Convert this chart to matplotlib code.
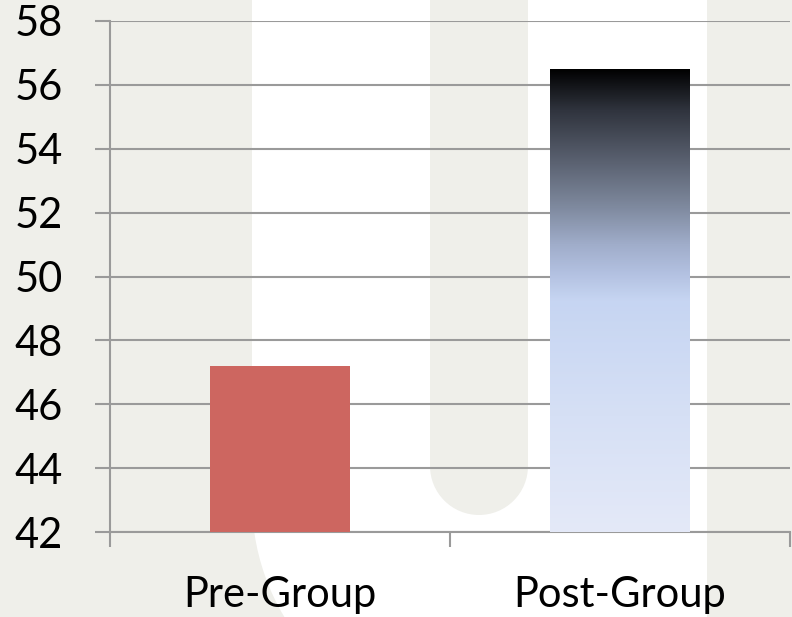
import numpy as np
import matplotlib.pyplot as plt
from matplotlib.colors import LinearSegmentedColormap
from matplotlib.patches import Rectangle, Circle

# chart data
categories = ["Pre-Group", "Post-Group"]
values = [47.2, 56.5]
y_ticks = [42, 44, 46, 48, 50, 52, 54, 56, 58]

plt.rcParams['font.family'] = ['Lato', 'DejaVu Sans']

W, H = 792, 617
fig = plt.figure(figsize=(W / 100, H / 100), dpi=100)
bg_gray = '#EFEFEA'
fig.patch.set_facecolor(bg_gray)

# slide background: white "U" shape on gray
bg = fig.add_axes([0, 0, 1, 1], zorder=0)
bg.set_xlim(0, W)
bg.set_ylim(H, 0)
bg.axis('off')
bg.add_patch(Rectangle((252, -10), 455, 510, color='white', lw=0))
bg.add_patch(Circle((479.5, 500), 227.5, color='white', lw=0))
bg.add_patch(Rectangle((479.5, 490), 227.5, 140, color='white', lw=0))
bg.add_patch(Rectangle((430, -10), 98, 476, color=bg_gray, lw=0))
bg.add_patch(Circle((479, 466), 49, color=bg_gray, lw=0))

# main chart
ax = fig.add_axes([110 / W, (H - 532) / H, 680 / W, 511 / H], zorder=1)
ax.patch.set_alpha(0)

grid_col = '#9A9A9A'
x = np.arange(len(categories))
bars = ax.bar(x, [v - y_ticks[0] for v in values], bottom=y_ticks[0], width=0.41,
              color=['#CD6660', 'none'], zorder=3)

# gradient fill for the post-group bar
grad = LinearSegmentedColormap.from_list('post', [
    (0.00, '#E4E9F8'),
    (0.25, '#D6E0F5'),
    (0.50, '#C6D5F2'),
    (0.56, '#B2C0E0'),
    (0.62, '#A0ADCA'),
    (0.70, '#7F8A9F'),
    (0.80, '#5A6170'),
    (0.91, '#30343E'),
    (1.00, '#000000'),
])
p = bars[1]
img = ax.imshow(np.linspace(0, 1, 256).reshape(-1, 1), cmap=grad, origin='lower',
                aspect='auto', zorder=3,
                extent=[p.get_x(), p.get_x() + p.get_width(),
                        p.get_y(), p.get_y() + p.get_height()])
img.set_clip_path(p)

ax.set_xlim(-0.5, len(categories) - 0.5)
ax.set_ylim(y_ticks[0], y_ticks[-1])
ax.set_yticks(y_ticks)
ax.yaxis.grid(True, color=grid_col, lw=1.5, zorder=1)
ax.set_axisbelow(True)

ax.set_xticks(x)
ax.set_xticklabels(categories, fontsize=30)
ax.set_xticks(np.arange(-0.5, len(categories)), minor=True)
ax.tick_params(axis='x', which='major', length=0, pad=32)
ax.tick_params(axis='x', which='minor', length=11, width=1.5, color=grid_col)
ax.tick_params(axis='y', length=11, width=1.5, color=grid_col, pad=23, labelsize=30)

for s in ['top', 'right']:
    ax.spines[s].set_visible(False)
for s in ['left', 'bottom']:
    ax.spines[s].set_color(grid_col)
    ax.spines[s].set_linewidth(1.5)

fig.savefig('out.png', dpi=100, facecolor=fig.get_facecolor())
